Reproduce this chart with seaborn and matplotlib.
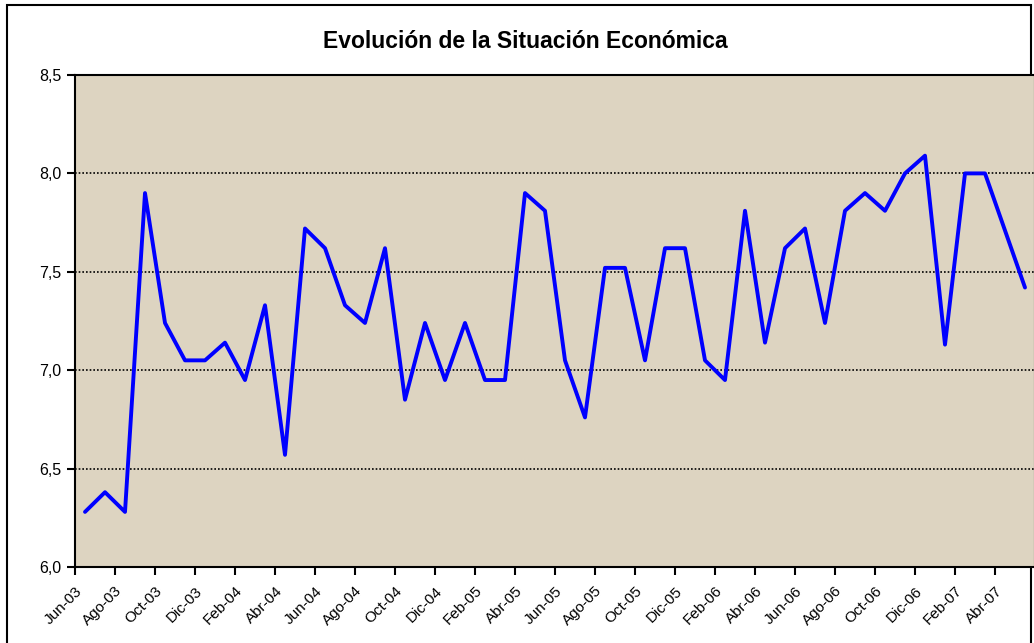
import matplotlib
matplotlib.use("Agg")
import matplotlib.pyplot as plt
import matplotlib.patches as mpatches
import numpy as np
import pandas as pd
import seaborn as sns

# monthly series, Jun-03 .. May-07
months = ["Jun-03", "Jul-03", "Ago-03", "Sep-03", "Oct-03", "Nov-03", "Dic-03",
          "Ene-04", "Feb-04", "Mar-04", "Abr-04", "May-04", "Jun-04", "Jul-04",
          "Ago-04", "Sep-04", "Oct-04", "Nov-04", "Dic-04", "Ene-05", "Feb-05",
          "Mar-05", "Abr-05", "May-05", "Jun-05", "Jul-05", "Ago-05", "Sep-05",
          "Oct-05", "Nov-05", "Dic-05", "Ene-06", "Feb-06", "Mar-06", "Abr-06",
          "May-06", "Jun-06", "Jul-06", "Ago-06", "Sep-06", "Oct-06", "Nov-06",
          "Dic-06", "Ene-07", "Feb-07", "Mar-07", "Abr-07", "May-07"]
values = [6.28, 6.38, 6.28, 7.90, 7.24, 7.05, 7.05, 7.14, 6.95, 7.33, 6.57, 7.72,
          7.62, 7.33, 7.24, 7.62, 6.85, 7.24, 6.95, 7.24, 6.95, 6.95, 7.90, 7.81,
          7.05, 6.76, 7.52, 7.52, 7.05, 7.62, 7.62, 7.05, 6.95, 7.81, 7.14, 7.62,
          7.72, 7.24, 7.81, 7.90, 7.81, 8.00, 8.09, 7.13, 8.00, 8.00, 7.71, 7.42]
yticks = [6.0, 6.5, 7.0, 7.5, 8.0, 8.5]
title = "Evolución de la Situación Económica"

sns.set_style("white")
plt.rcParams["font.family"] = ["Liberation Sans", "DejaVu Sans"]
plt.rcParams["text.color"] = "black"

W, H = 1034, 643
fig = plt.figure(figsize=(W / 100, H / 100), dpi=100)

# chart area border (plot area covers its right side)
border = mpatches.Rectangle((7 / W, -0.05), 1024 / W, 1.05 - 5 / H, transform=fig.transFigure,
                            fill=False, edgecolor="black", linewidth=1.5, zorder=-1)
fig.patches.append(border)

ax = fig.add_axes([75 / W, 76 / H, 960 / W, 492 / H])
ax.set_facecolor("#DDD4C1")

df = pd.DataFrame({"pos": np.arange(len(months)), "valor": values})
sns.lineplot(data=df, x="pos", y="valor", ax=ax, color="#0000FF", linewidth=2.8, zorder=3)

for y in yticks[1:-1]:
    ax.axhline(y, color="black", linestyle=(0, (1, 1.2)), linewidth=1.2, zorder=1)

ax.set_xlim(-0.5, len(months) - 0.5)
ax.set_ylim(yticks[0], yticks[-1])
ax.set_yticks(yticks)
ax.set_yticklabels([f"{v:.1f}".replace(".", ",") for v in yticks])
ax.set_xticks(np.arange(0, len(months), 2) - 0.5)
ax.set_xticklabels(months[::2], rotation=45, ha="right", va="top", rotation_mode="anchor")
ax.set_xlabel("")
ax.set_ylabel("")

ax.tick_params(axis="x", bottom=True, direction="out", length=6, width=1.5,
               labelsize=11, pad=6, colors="black")
ax.tick_params(axis="y", left=True, direction="out", length=6, width=1.5,
               labelsize=11.5, pad=4, colors="black")
for s in ax.spines.values():
    s.set_color("black")
    s.set_linewidth(1.5)

fig.text(525 / W, 1 - 41 / H, title, ha="center", va="center",
         fontsize=16.5, fontweight="bold", color="black")

fig.savefig("out.png", dpi=100)
